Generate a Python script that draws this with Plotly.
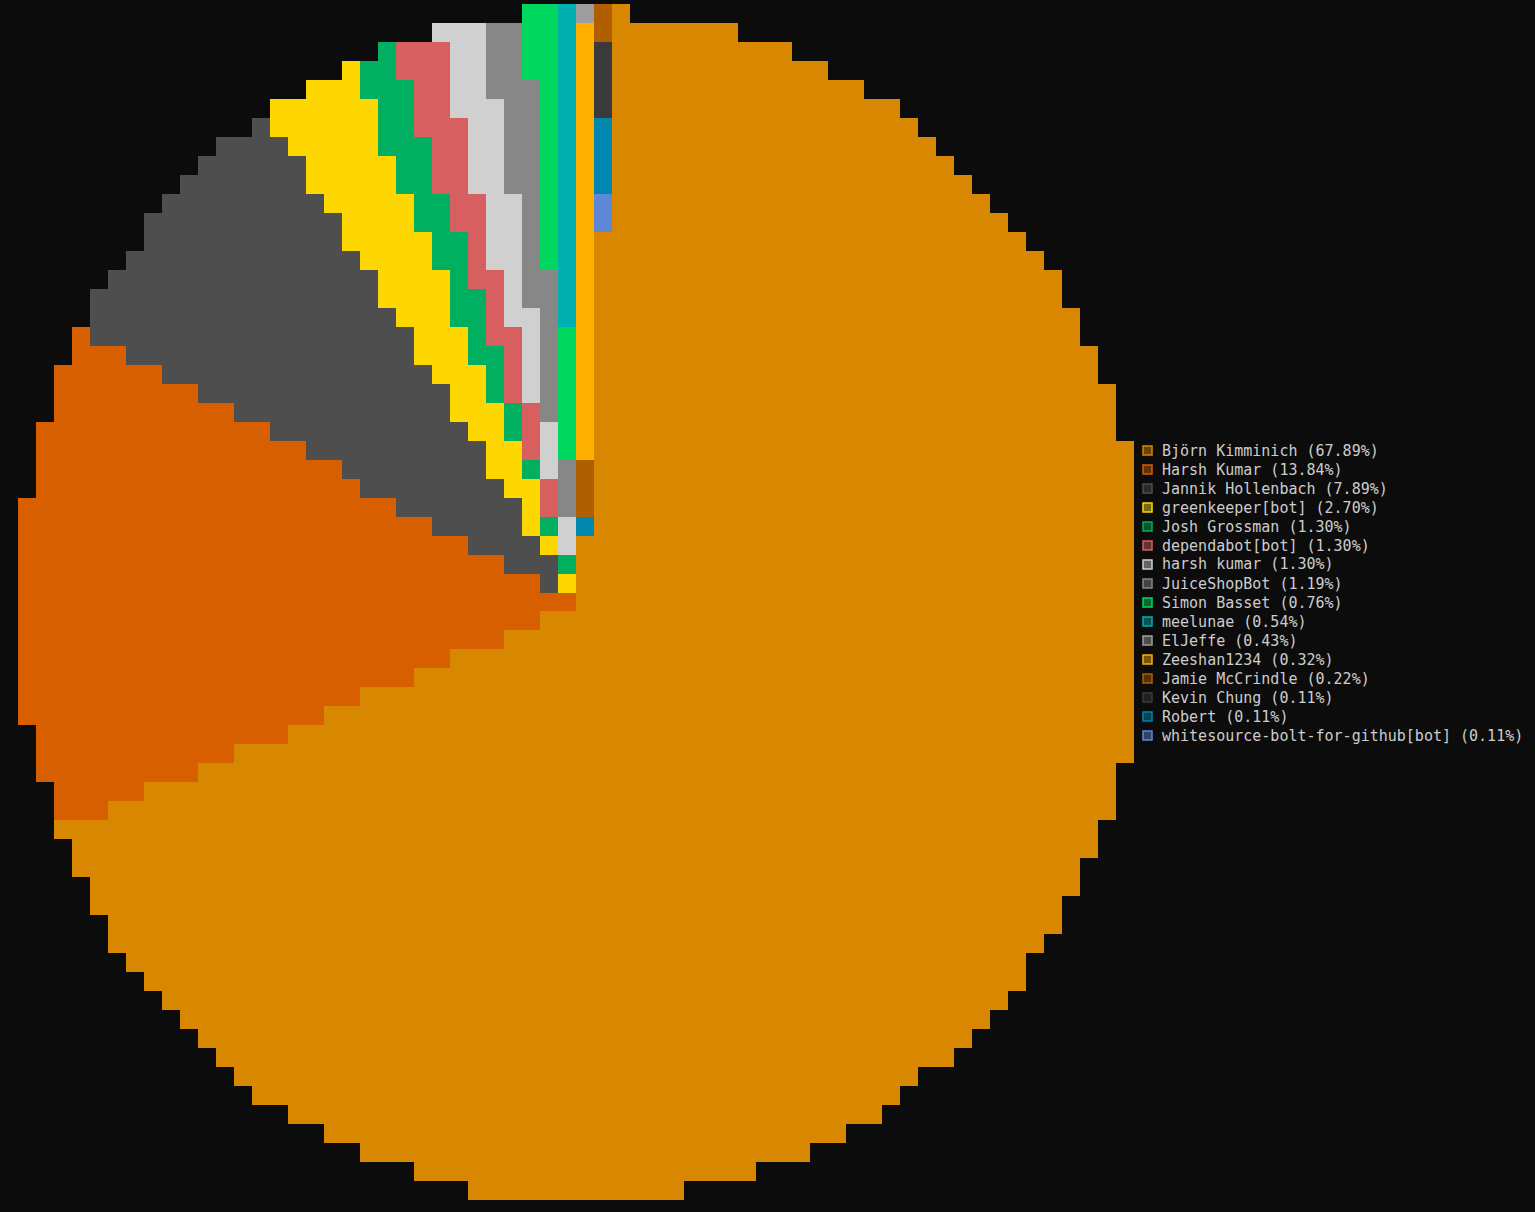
import math
import numpy as np
import plotly.graph_objects as go

# ---- data ----
names = [
    "Björn Kimminich", "Harsh Kumar", "Jannik Hollenbach", "greenkeeper[bot]",
    "Josh Grossman", "dependabot[bot]", "harsh kumar", "JuiceShopBot",
    "Simon Basset", "meelunae", "ElJeffe", "Zeeshan1234", "Jamie McCrindle",
    "Kevin Chung", "Robert", "whitesource-bolt-for-github[bot]",
]
percents = [67.89, 13.84, 7.89, 2.70, 1.30, 1.30, 1.30, 1.19,
            0.76, 0.54, 0.43, 0.32, 0.22, 0.11, 0.11, 0.11]
colors = [
    "#d78700", "#d75f00", "#4e4e4e", "#ffd700", "#00af5f", "#d75f5f",
    "#d0d0d0", "#878787", "#00d75f", "#00afaf", "#9e9e9e", "#ffaf00",
    "#af5f00", "#3a3a3a", "#0087af", "#5f87d7",
]

# ---- page geometry (pixels) ----
W, H = 1535, 1212
PL, PT = 18, 4            # plot area left / top
PW, PH = 1116, 1196       # plot area width / height
BG = "#0c0c0c"

# ---- pixel-grid pie rendering (terminal-like cells) ----
N_COLS, N_ROWS = 62, 63
CX, CY = 30.8, 31.2          # centre in cell units
RADIUS = 31.35
START_DEG = 3.5              # clockwise from 12 o'clock

total = float(sum(percents))
bounds = np.cumsum([p / total * 360.0 for p in percents])

z = np.full((N_ROWS, N_COLS), np.nan)
for r in range(N_ROWS):
    for c in range(N_COLS):
        dx = c - CX
        dy = r - CY
        if dx * dx + dy * dy > RADIUS * RADIUS:
            continue
        ang = math.degrees(math.atan2(dx, -dy)) % 360.0
        ang = (ang - START_DEG) % 360.0
        idx = int(np.searchsorted(bounds, ang, side="right"))
        z[r, c] = min(idx, len(percents) - 1)

n = len(colors)
colorscale = []
for i, col in enumerate(colors):
    colorscale.append([i / n, col])
    colorscale.append([(i + 1) / n, col])

fig = go.Figure()
fig.add_trace(go.Heatmap(
    z=z, x=list(range(N_COLS)), y=list(range(N_ROWS)),
    colorscale=colorscale, zmin=-0.5, zmax=n - 0.5,
    showscale=False, hoverinfo="skip", showlegend=False,
))


def darken(hexcol, f=0.45):
    h = hexcol.lstrip("#")
    rgb = [int(h[i:i + 2], 16) for i in (0, 2, 4)]
    bg = (12, 12, 12)
    out = [int(bg[k] + (rgb[k] - bg[k]) * f) for k in range(3)]
    return "rgb(%d,%d,%d)" % tuple(out)


def px2x(px):
    return (px - PL) / PW


def py2y(py):
    return 1 - (py - PT) / PH


# ---- legend (drawn as text + swatches) ----
LEG_TEXT_X = 1161
LEG_SW_X0, LEG_SW_X1 = 1143, 1152
LEG_Y0, LEG_DY = 450.5, 19.0
annotations = []
shapes = []
for i, (name, pct, col) in enumerate(zip(names, percents, colors)):
    yc = LEG_Y0 + i * LEG_DY
    annotations.append(dict(
        x=px2x(LEG_TEXT_X), y=py2y(yc), xref="paper", yref="paper",
        xanchor="left", yanchor="middle", showarrow=False,
        text=f"{name} ({pct:.2f}%)",
        font=dict(family="DejaVu Sans Mono", size=15, color="#cccccc"),
        borderpad=0,
    ))
    shapes.append(dict(
        type="rect", xref="paper", yref="paper",
        x0=px2x(LEG_SW_X0), x1=px2x(LEG_SW_X1),
        y0=py2y(yc - 4.5), y1=py2y(yc + 4.5),
        fillcolor=darken(col), line=dict(color=col, width=1.5),
    ))

fig.update_layout(
    width=W, height=H,
    margin=dict(l=PL, r=W - PL - PW, t=PT, b=H - PT - PH),
    paper_bgcolor=BG, plot_bgcolor=BG,
    xaxis=dict(range=[-0.5, N_COLS - 0.5], visible=False, fixedrange=True),
    yaxis=dict(range=[N_ROWS - 0.5, -0.5], visible=False, fixedrange=True),
    showlegend=False,
    annotations=annotations,
    shapes=shapes,
)

fig.write_html(
    "out.html",
    config={"displayModeBar": False},
    post_script=(
        "document.body.style.margin='0';"
        "document.body.style.background='#0c0c0c';"
        "document.documentElement.style.background='#0c0c0c';"
    ),
)
